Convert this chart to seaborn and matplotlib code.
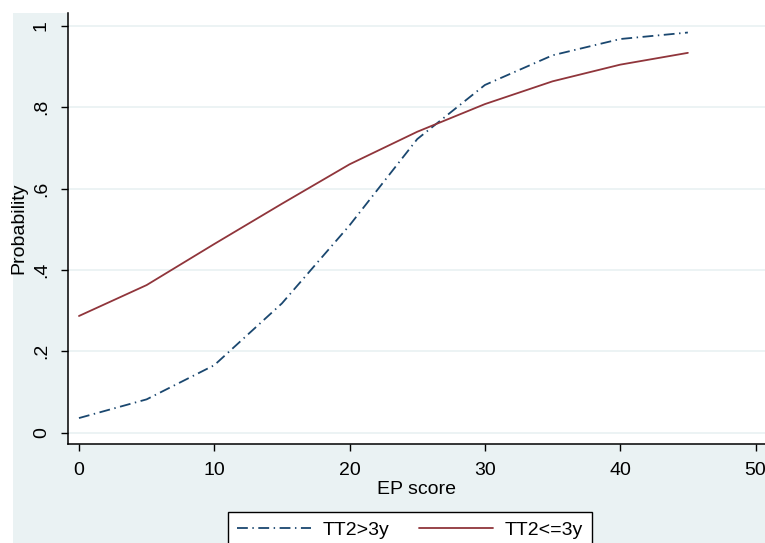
import pandas as pd
import seaborn as sns
import matplotlib.pyplot as plt
from matplotlib.patches import Rectangle

# values
ep_score = [0, 5, 10, 15, 20, 25, 30, 35, 40, 45]
prob_gt3y = [0.036, 0.082, 0.166, 0.318, 0.510, 0.722, 0.855, 0.928, 0.968, 0.984]
prob_le3y = [0.287, 0.363, 0.464, 0.563, 0.660, 0.740, 0.808, 0.864, 0.905, 0.934]
y_ticks = [0, 0.2, 0.4, 0.6, 0.8, 1.0]
y_ticklabels = ['0', '.2', '.4', '.6', '.8', '1']
x_ticks = [0, 10, 20, 30, 40, 50]

sns.set_style('white')
plt.rcParams['font.family'] = ['Liberation Sans', 'DejaVu Sans']
plt.rcParams['text.color'] = 'black'
plt.rcParams['axes.labelcolor'] = 'black'
plt.rcParams['xtick.labelcolor'] = 'black'
plt.rcParams['ytick.labelcolor'] = 'black'

bg = '#EAF2F3'
navy = '#1A476F'
maroon = '#90353B'

fig = plt.figure(figsize=(7.65, 5.43), dpi=100)
fig.patches.append(Rectangle((13 / 765, 0), 1, 530 / 543, transform=fig.transFigure,
                             facecolor=bg, edgecolor='none', zorder=-1))
ax = fig.add_axes([68 / 765, 98.7 / 543, 1 - 68 / 765, (530 - 98.7) / 543])
ax.set_facecolor('white')

df = pd.DataFrame({'ep': ep_score, 'gt3': prob_gt3y, 'le3': prob_le3y})

sns.lineplot(data=df, x='ep', y='gt3', ax=ax, color=navy, lw=1.3,
             linestyle=(0, (6, 2.5, 0.8, 2.5)), label='TT2>3y')
sns.lineplot(data=df, x='ep', y='le3', ax=ax, color=maroon, lw=1.3, label='TT2<=3y')

ax.set_xlim(-0.81, 50.7)
ax.set_ylim(-0.0285, 1.032)
ax.set_yticks(y_ticks)
ax.set_yticklabels(y_ticklabels, rotation=90, va='center')
ax.set_xticks(x_ticks)
for y in y_ticks:
    ax.axhline(y, color=bg, lw=1.3, zorder=0)

for s in ['top', 'right']:
    ax.spines[s].set_visible(False)
for s in ['left', 'bottom']:
    ax.spines[s].set_color('black')
    ax.spines[s].set_linewidth(1.1)

ax.tick_params(axis='both', direction='out', length=5, width=1, color='black',
               labelsize=14, pad=8, left=True, bottom=True)
ax.set_xlabel('EP score', fontsize=14, labelpad=1)
ax.set_ylabel('Probability', fontsize=14, labelpad=4)

ax.get_legend().remove()
handles, labels = ax.get_legend_handles_labels()
leg = fig.legend(handles, labels, loc='upper center', bbox_to_anchor=(0.536, 0.0577),
                 ncol=2, fontsize=14, frameon=True, fancybox=False, framealpha=1,
                 edgecolor='black', handlelength=3.8, handletextpad=0.6,
                 columnspacing=1.5, borderpad=0.5, borderaxespad=0)
leg.get_frame().set_linewidth(1.0)

fig.savefig('out.png', dpi=100)
